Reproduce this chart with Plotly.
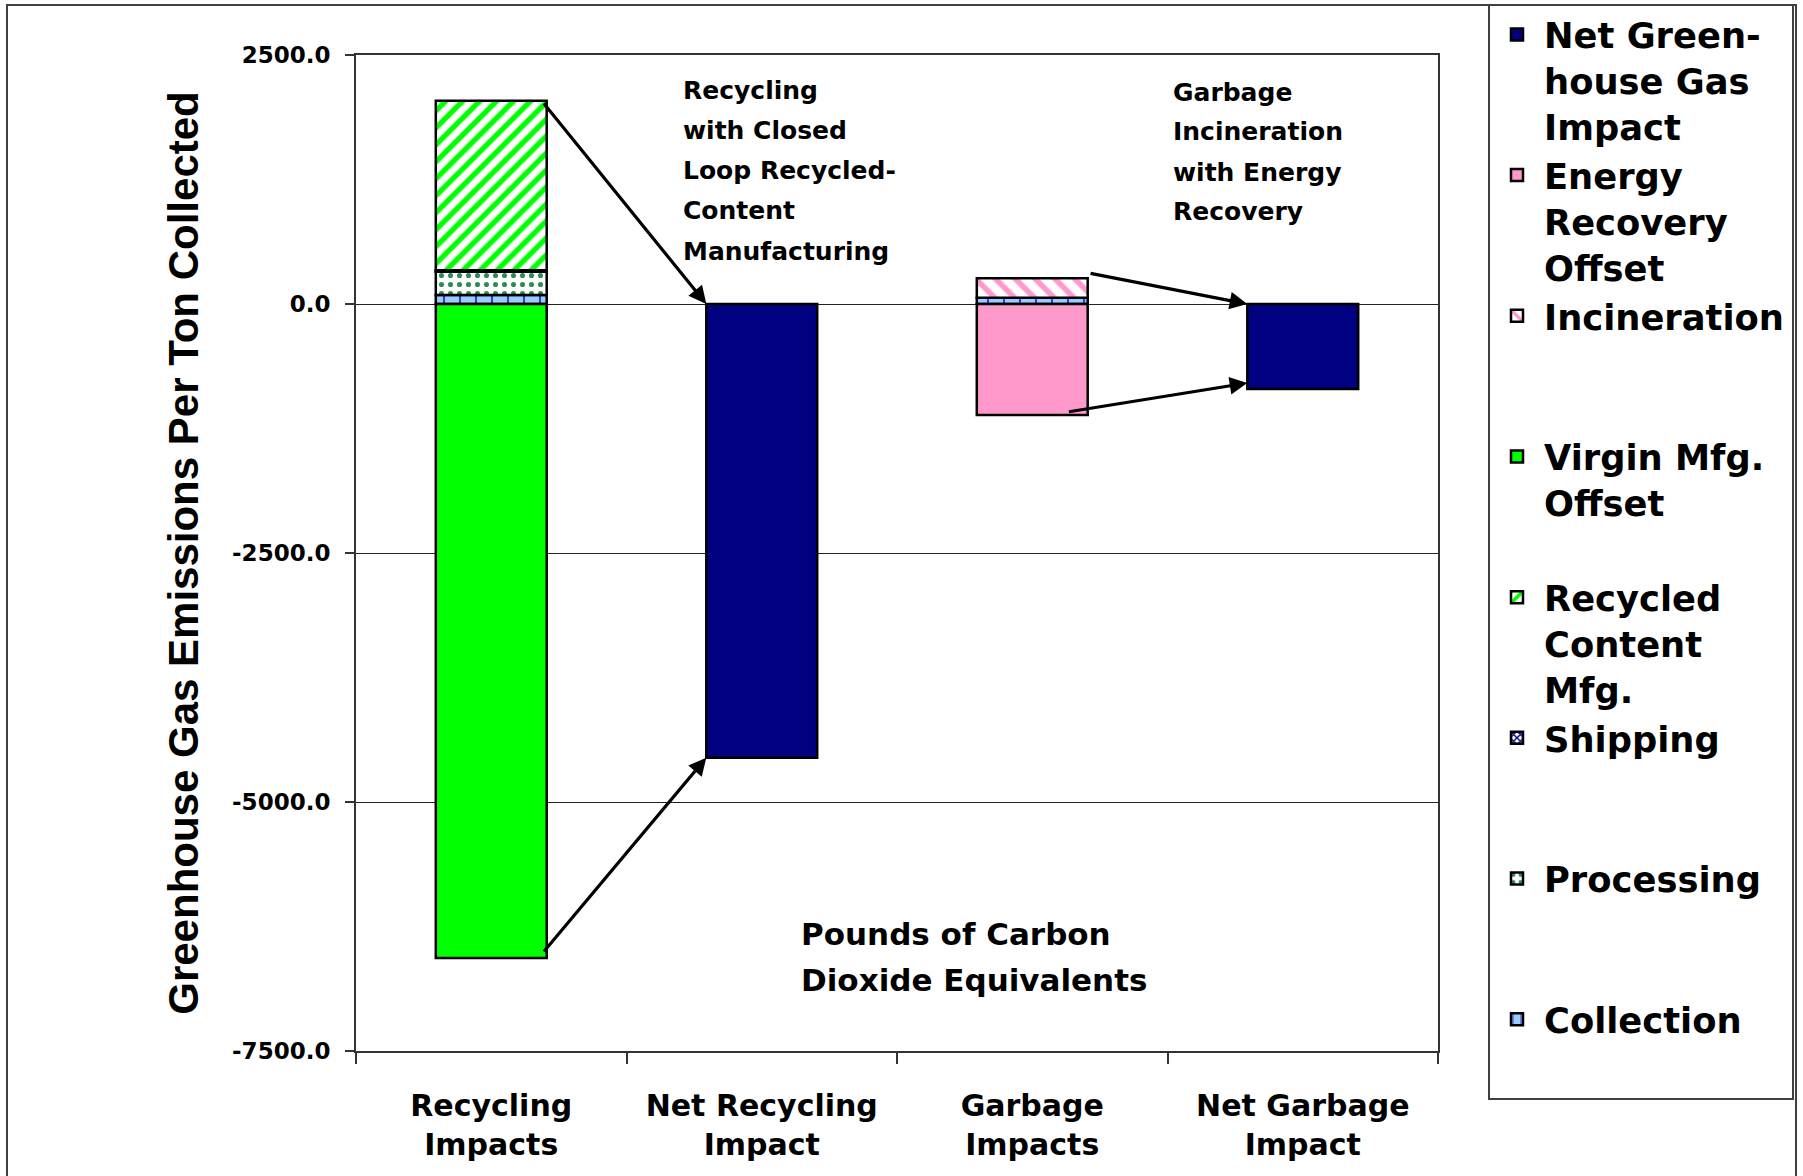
import plotly.graph_objects as go

# ---- data (pounds of CO2 equivalents per ton collected) ----
categories = ["Recycling Impacts", "Net Recycling Impact", "Garbage Impacts", "Net Garbage Impact"]
tick_labels = ["Recycling<br>Impacts", "Net Recycling<br>Impact", "Garbage<br>Impacts", "Net Garbage<br>Impact"]

collection = [90, None, 63, None]
processing = [234, None, None, None]
shipping = [15, None, None, None]
recycled_content_mfg = [1702, None, None, None]
virgin_mfg_offset = [-6566, None, None, None]
incineration = [None, None, 195, None]
energy_recovery_offset = [None, None, -1114, None]
net_ghg_impact = [None, -4555, None, -853]

y_ticks = [2500, 0, -2500, -5000, -7500]
y_tick_text = [f"{v:.1f}" for v in y_ticks]

# ---- page geometry (pixels) ----
FIG_W, FIG_H = 1803, 1176
L, R, T, B = 356, 1438, 55, 1051          # plot area edges
PW, PH = R - L, B - T

def pxx(px):
    return (px - L) / PW

def pxy(py):
    return (B - py) / PH

BOLD = "DejaVu Sans"
BAR_W = 0.41
EDGE = dict(color="#000000", width=2.5)
NB = "\u00a0"

series = [
    ("Collection", collection, dict(fgcolor="#3333CC", bgcolor="#99CCFF", shape="|", size=16, solidity=0.12)),
    (f"Processing<br>{NB}<br>{NB}", processing, dict(fgcolor="#2E8B57", bgcolor="#FFFFFF", shape=".", size=9, solidity=0.25)),
    (f"Shipping<br>{NB}<br>{NB}", shipping, dict(fgcolor="#000080", bgcolor="#FFFFFF", shape="x", size=6, solidity=0.5)),
    ("Recycled<br>Content<br>Mfg.", recycled_content_mfg, dict(fgcolor="#00FF00", bgcolor="#FFFFFF", shape="/", size=12, solidity=0.45)),
    (f"Virgin Mfg.<br>Offset<br>{NB}", virgin_mfg_offset, "#00FF00"),
    (f"Incineration<br>{NB}<br>{NB}", incineration, dict(fgcolor="#FF99CC", bgcolor="#FFFFFF", shape="\\", size=14, solidity=0.4)),
    ("Energy<br>Recovery<br>Offset", energy_recovery_offset, "#FF99CC"),
    ("Net Green-<br>house Gas<br>Impact", net_ghg_impact, "#000080"),
]

fig = go.Figure()
for name, vals, style in series:
    marker = dict(line=EDGE)
    if isinstance(style, str):
        marker["color"] = style
    else:
        marker["color"] = style["bgcolor"]
        marker["pattern"] = dict(shape=style["shape"], fgcolor=style["fgcolor"], bgcolor=style["bgcolor"],
                                 size=style["size"], solidity=style["solidity"], fillmode="replace")
    fig.add_trace(go.Bar(x=categories, y=vals, name=name, width=BAR_W, marker=marker))

# ---- arrows linking the component stacks to their net bars ----
rec_top = sum(v for v in [collection[0], processing[0], shipping[0], recycled_content_mfg[0]] if v)
gar_top = collection[2] + incineration[2]
arrow_specs = [
    # (head x, head y, tail x, tail y)
    (1 - BAR_W / 2, 0, 0.19, rec_top - 12),
    (1 - BAR_W / 2, net_ghg_impact[1], 0.19, virgin_mfg_offset[0] + 50),
    (3 - BAR_W / 2, 0, 2.21, gar_top + 53),
    (3 - BAR_W / 2, net_ghg_impact[3] + 60, 2.13, energy_recovery_offset[2] + 30),
]
annotations = []
for hx, hy, tx, ty in arrow_specs:
    annotations.append(dict(x=hx, y=hy, ax=tx, ay=ty, xref="x", yref="y", axref="x", ayref="y",
                            showarrow=True, arrowhead=2, arrowsize=1.1, arrowwidth=3.2,
                            arrowcolor="#000000", text=""))

# ---- text notes on the plot ----
def text_block(lines, left_px, first_py, step, size):
    for i, line in enumerate(lines):
        annotations.append(dict(x=pxx(left_px), y=pxy(first_py + i * step), xref="paper", yref="paper",
                                xanchor="left", yanchor="middle", showarrow=False, text=line,
                                font=dict(family=BOLD, size=size, color="#000000", weight="bold")))

text_block(["Recycling", "with Closed", "Loop Recycled-", "Content", "Manufacturing"], 681, 90, 40.3, 25)
text_block(["Garbage", "Incineration", "with Energy", "Recovery"], 1171, 92, 40, 25)
text_block(["Pounds of Carbon", "Dioxide Equivalents"], 799, 934, 46, 31)

# ---- frame around the whole chart and around the legend ----
shapes = [
    dict(type="rect", xref="paper", yref="paper", x0=pxx(7), x1=pxx(1796), y0=pxy(1190), y1=pxy(5),
         line=dict(color="#404040", width=2), fillcolor="rgba(0,0,0,0)", layer="below"),
    dict(type="rect", xref="paper", yref="paper", x0=pxx(1489), x1=pxx(1793), y0=pxy(1099), y1=pxy(5),
         line=dict(color="#404040", width=2), fillcolor="rgba(0,0,0,0)", layer="below"),
]

fig.update_layout(
    template="none",
    width=FIG_W, height=FIG_H,
    margin=dict(l=L, r=FIG_W - R, t=T, b=FIG_H - B, pad=0, autoexpand=False),
    paper_bgcolor="#FFFFFF", plot_bgcolor="#FFFFFF",
    barmode="relative",
    bargap=1 - BAR_W,
    font=dict(family=BOLD, color="#000000"),
    showlegend=True,
    legend=dict(
        traceorder="reversed",
        x=pxx(1490), xanchor="left", y=pxy(5), yanchor="top",
        font=dict(family=BOLD, size=35.3, color="#000000", weight="bold"),
        itemwidth=44, valign="top", tracegroupgap=0, maxheight=1170,
        bgcolor="rgba(0,0,0,0)", borderwidth=0,
    ),
    annotations=annotations,
    shapes=shapes,
)

fig.update_xaxes(
    type="category", categoryorder="array", categoryarray=categories,
    tickvals=categories, ticktext=tick_labels,
    tickson="boundaries", ticks="outside", ticklen=11, tickwidth=1.5, tickcolor="#333333",
    showgrid=False, showline=True, mirror=True, linecolor="#333333", linewidth=2,
    tickfont=dict(family=BOLD, size=30, color="#000000", weight="bold"),
    automargin=False, zeroline=False, ticklabelstandoff=27,
)
fig.update_yaxes(
    range=[-7500, 2500], tickvals=y_ticks, ticktext=y_tick_text,
    ticks="outside", ticklen=9, tickwidth=1.5, tickcolor="#333333",
    showgrid=True, gridcolor="#222222", gridwidth=1,
    zeroline=True, zerolinecolor="#222222", zerolinewidth=1,
    showline=True, mirror=True, linecolor="#333333", linewidth=2,
    tickfont=dict(family=BOLD, size=23, color="#000000", weight="bold"),
    ticklabelstandoff=10, automargin=False,
    title=dict(text="Greenhouse Gas Emissions Per Ton Collected",
               font=dict(family="Liberation Sans", size=42, color="#000000", weight="bold"),
               standoff=20),
)

fig.write_html("out.html")
